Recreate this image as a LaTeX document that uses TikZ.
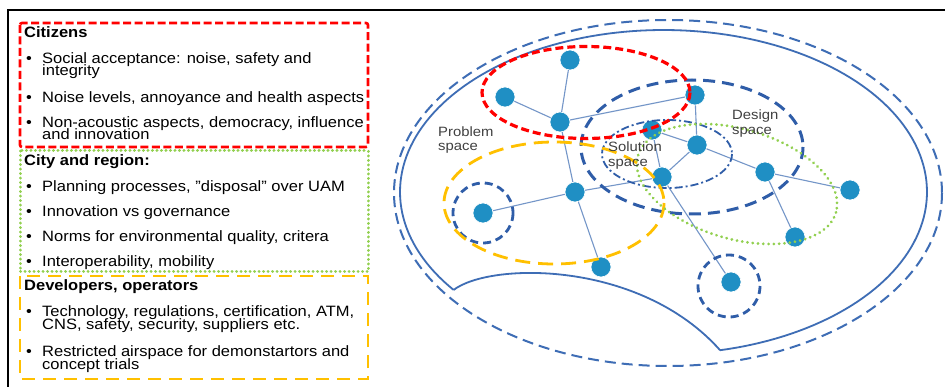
\documentclass[tikz,border=0pt]{standalone}
\usepackage{fontspec}
\setmainfont{Liberation Sans}
\newfontfamily\lbl[FakeStretch=1.1]{Liberation Sans}
\definecolor{nodeblue}{HTML}{1F8FC4}
\definecolor{edgeblue}{HTML}{7496C8}
\definecolor{dkblue}{HTML}{2F5DA8}
\definecolor{outblue}{HTML}{3E6DB5}
\definecolor{ured}{HTML}{FF0000}
\definecolor{uyellow}{HTML}{FFC000}
\definecolor{ugreen}{HTML}{92D050}
\definecolor{txtgray}{HTML}{404040}
\begin{document}
\begin{tikzpicture}[x=1pt,y=-1pt,
  txt/.style={anchor=base west,inner sep=0pt,font=\lbl\fontsize{15}{15}\selectfont},
  hd/.style={txt,font=\lbl\bfseries\fontsize{15}{15}\selectfont},
  blt/.style={txt},
  sp/.style={anchor=base west,inner sep=0pt,text=txtgray,font=\lbl\fontsize{13.5}{13.5}\selectfont},
  dot/.style={circle,fill=nodeblue,draw=white,line width=0.6pt,inner sep=0pt,minimum size=20pt},
  edge/.style={edgeblue,line width=1.1pt},
  redbox/.style={ured,line width=2.6pt,dash pattern=on 8pt off 3.5pt,rounded corners=2pt},
  greenbox/.style={ugreen,line width=3pt,line cap=round,dash pattern=on 0.1pt off 4.4pt},
  yellowbox/.style={uyellow,line width=2.6pt,dash pattern=on 13pt off 8pt},
  reddash/.style={ured,line width=3.2pt,dash pattern=on 8pt off 4pt},
  yeldash/.style={uyellow,line width=2.8pt,dash pattern=on 15pt off 8pt},
  greendot/.style={ugreen,line width=3pt,line cap=round,dash pattern=on 0.1pt off 5.2pt},
  bluedash/.style={dkblue,line width=3pt,dash pattern=on 12pt off 7pt},
  circdash/.style={dkblue,line width=2.8pt,dash pattern=on 8pt off 5pt},
  dashdot/.style={dkblue,line width=1.8pt,dash pattern=on 8pt off 3pt on 2pt off 3pt},
  outdash/.style={outblue,line width=2pt,dash pattern=on 11pt off 6pt},
  outsolid/.style={outblue,line width=1.8pt}]
\useasboundingbox (0,0) rectangle (945,387);
\fill[white] (0,0) rectangle (945,387);
% frame
\draw[black,line width=2pt] (8,387) -- (8,10) -- (945,10);

% left panel boxes
\draw[redbox] (20,23) rectangle (368,147);
\draw[greenbox] (20,151) rectangle (368,272);
\draw[yellowbox] (20,276) rectangle (368,379);

% Citizens
\node[hd] (h1) at (24,37.5) {Citizens};
\node[blt] (b11) at (26,63.3) {•};
\node[txt] (t11) at (42,63.3) {Social acceptance: noise, safety and};
\node[txt] (t12) at (42,75.5) {integrity};
\node[blt] (b12) at (26,102.3) {•};
\node[txt] (t13) at (42,102.3) {Noise levels, annoyance and health aspects};
\node[blt] (b13) at (26,127.3) {•};
\node[txt] (t14) at (42,127.3) {Non-acoustic aspects, democracy, influence};
\node[txt] (t15) at (42,140) {and innovation};
% City
\node[hd] (h2) at (24,166) {City and region:};
\node[blt] (b21) at (26,191.7) {•};
\node[txt] (t21) at (42,191.7) {Planning processes, ”disposal” over UAM};
\node[blt] (b22) at (26,216.7) {•};
\node[txt] (t22) at (42,216.7) {Innovation vs governance};
\node[blt] (b23) at (26,241.7) {•};
\node[txt] (t23) at (42,241.7) {Norms for environmental quality, critera};
\node[blt] (b24) at (26,266.7) {•};
\node[txt] (t24) at (42,266.7) {Interoperability, mobility};
% Developers
\node[hd] (h3) at (24,290.7) {Developers, operators};
\node[blt] (b31) at (26,316.7) {•};
\node[txt] (t31) at (42,316.7) {Technology, regulations, certification, ATM,};
\node[txt] (t32) at (42,330) {CNS, safety, security, suppliers etc.};
\node[blt] (b32) at (26,356) {•};
\node[txt] (t33) at (42,356) {Restricted airspace for demonstartors and};
\node[txt] (t34) at (42,369) {concept trials};

% outer shapes
\draw[outdash] (668,193) ellipse [x radius=274, y radius=173];
\coordinate (cA) at ({663.5+263.5*cos(142.8)},{192+162*sin(142.8)});
\coordinate (cB) at ({663.5+263.5*cos(77.6)},{192+162*sin(77.6)});
\draw[outsolid] plot[domain=-217.2:77.6,samples=160] ({663.5+263.5*cos(\x)},{192+162*sin(\x)});
\draw[outsolid] (cA) .. controls (490,262) and (640,260) .. (cB);

% network nodes
\node[dot] (n1) at (570,60) {};
\node[dot] (n2) at (505,97) {};
\node[dot] (n3) at (560,122) {};
\node[dot] (n4) at (695,95) {};
\node[dot] (n5) at (652,130) {};
\node[dot] (n6) at (697,145) {};
\node[dot] (n7) at (662,177) {};
\node[dot] (n8) at (575,192) {};
\node[dot] (n9) at (765,172) {};
\node[dot] (n10) at (850,190) {};
\node[dot] (n11) at (483,213) {};
\node[dot] (n12) at (601,267) {};
\node[dot] (n13) at (795,237) {};
\node[dot] (n14) at (731,282) {};
\foreach \a/\b in {n1/n3,n2/n3,n3/n4,n3/n8,n8/n11,n8/n12,n8/n7,n5/n7,n4/n6,n6/n5,n6/n7,n6/n9,n9/n10,n9/n13,n7/n14}
  \draw[edge] (\a) -- (\b);

% spaces
\draw[bluedash] (692,147) ellipse [x radius=111, y radius=67];
\draw[dashdot] (667,154) ellipse [x radius=65, y radius=34];
\draw[circdash] (483,213) circle [radius=30];
\draw[circdash] (729,286) circle [radius=31];
\draw[yeldash] (554,203) ellipse [x radius=110, y radius=61];
\draw[greendot,rotate around={-16:(737,184)}] (737,184) ellipse [x radius=103, y radius=55];
\draw[reddash] (586,92.5) ellipse [x radius=104, y radius=46];

% labels
\node[sp] (ps1) at (438,136.5) {Problem};
\node[sp] (ps2) at (438,151) {space};
\node[sp] (ss1) at (608,151.5) {Solution};
\node[sp] (ss2) at (608,166.5) {space};
\node[sp] (ds1) at (732,119.3) {Design};
\node[sp] (ds2) at (732,134.3) {space};
\end{tikzpicture}
\end{document}
